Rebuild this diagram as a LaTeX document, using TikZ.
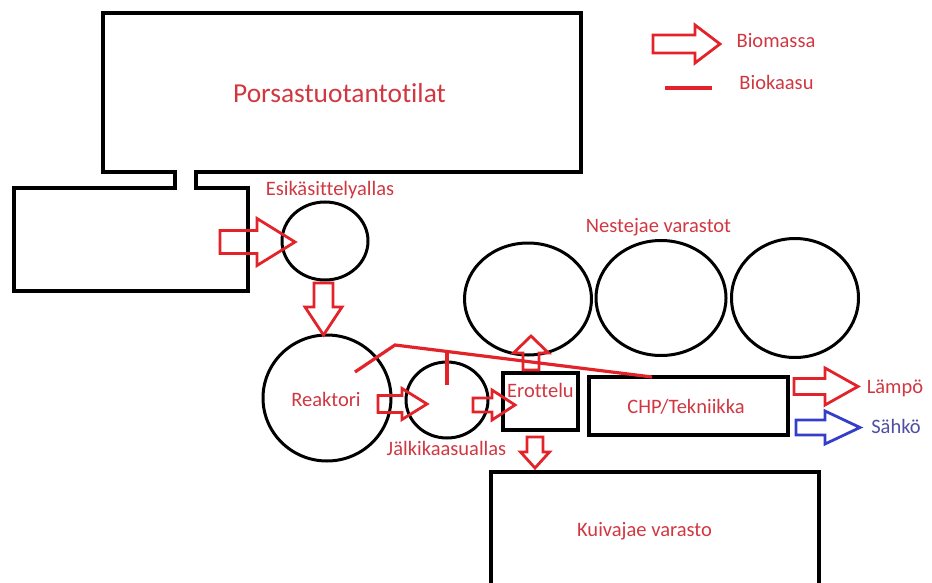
\documentclass[tikz,border=0pt]{standalone}
\usepackage{fontspec}
\setmainfont{Carlito}[Ligatures={NoCommon}]
\usetikzlibrary{shapes.geometric}
\definecolor{arrred}{RGB}{226,35,42}
\definecolor{txtred}{RGB}{208,55,65}
\definecolor{arrblue}{RGB}{52,62,200}
\definecolor{txtblue}{RGB}{78,78,165}
\tikzset{
  wall/.style={draw=black, line width=3.6pt, line join=miter},
  tank/.style={draw=black, line width=3pt, ellipse, inner sep=0pt, outer sep=0pt},
  box/.style={draw=black, line width=3.4pt, inner sep=0pt, outer sep=0pt},
  lbl/.style={text=txtred, font=\fontsize{20.5}{24}\selectfont, inner sep=0pt, anchor=base},
  biglbl/.style={text=txtred, font=\fontsize{27.4}{32}\selectfont, inner sep=0pt, anchor=base},
  bio/.style={draw=arrred, line width=2.8pt, line join=miter},
  ele/.style={draw=arrblue, line width=2.8pt, line join=miter},
  gas/.style={draw=arrred, line width=3.2pt},
}
% #1 style, #2 start, #3 angle, #4 length, #5 head length, #6 shaft width, #7 head width
\newcommand\blockarrow[7]{%
  \begin{scope}[shift={#2}, rotate=#3]
    \draw[#1] (0,{-#6/2}) -- ({#4-#5},{-#6/2}) -- ({#4-#5},{-#7/2}) -- (#4,0)
      -- ({#4-#5},{#7/2}) -- ({#4-#5},{#6/2}) -- (0,{#6/2}) -- cycle;
  \end{scope}}
\begin{document}
\begin{tikzpicture}[x=1pt, y=-1pt]
\useasboundingbox (0,0) rectangle (932,583);
% buildings
\draw[wall] (103,13) -- (581,13) -- (581,172) -- (196,172) -- (196,188) -- (248,188)
  -- (248,291) -- (14,291) -- (14,188) -- (175,188) -- (175,172) -- (103,172) -- cycle;
\node[biglbl] (porsas) at (339.5,103) {Porsastuotantotilat};
% tanks
\node[tank, minimum width=86pt, minimum height=78pt] (esik) at (325,241) {};
\node[lbl] (esiklbl) at (330,195) {Esikäsittelyallas};
\node[tank, minimum width=128pt, minimum height=126pt] (reak) at (327,398) {};
\node[lbl] (reaklbl) at (326,406) {Reaktori};
\node[tank, minimum width=82pt, minimum height=76pt] (jalki) at (447,400) {};
\node[lbl] (jalkilbl) at (446.5,455) {Jälkikaasuallas};
\node[tank, minimum width=127pt, minimum height=112pt] (nest1) at (528,299) {};
\node[tank, minimum width=130pt, minimum height=115pt] (nest2) at (661,298) {};
\node[tank, minimum width=127pt, minimum height=119pt] (nest3) at (795,298) {};
\node[lbl] (nestlbl) at (658.5,232) {Nestejae varastot};
% boxes
\node[box, minimum width=75pt, minimum height=57pt] (erot) at (540.5,401.5) {};
\node[lbl] (erotlbl) at (540.5,397) {Erottelu};
\node[box, minimum width=199pt, minimum height=58pt] (chp) at (688.5,406) {};
\node[lbl] (chplbl) at (686,413) {CHP/Tekniikka};
\coordinate (kv1) at (491,584);
\coordinate (kv2) at (819,584);
\draw[wall] (kv1) -- (491,472) -- (819,472) -- (kv2);
\node[lbl] (kuivlbl) at (644.5,536) {Kuivajae varasto};
% biogas line
\coordinate (g1) at (355,372);
\coordinate (g2) at (395,345);
\coordinate (g3) at (652,377);
\coordinate (t1) at (447,352);
\coordinate (t2) at (447,385);
\draw[gas, line join=miter] (g1) -- (g2) -- (g3);
\draw[gas] (t1) -- (t2);
% biomass arrows
\blockarrow{bio}{(220,242)}{0}{75}{38}{23}{47}
\blockarrow{bio}{(323.5,283)}{-90}{52}{28}{19}{37}
\blockarrow{bio}{(378,404)}{0}{49}{25}{17}{31}
\blockarrow{bio}{(473,405)}{0}{42}{23}{14}{30}
\blockarrow{bio}{(531,370)}{90}{34}{17}{16}{35}
\blockarrow{bio}{(535,437)}{-90}{31}{16}{16}{29}
\blockarrow{bio}{(794,386.5)}{0}{64}{33}{16}{37}
\blockarrow{ele}{(796,427.5)}{0}{64}{35}{15}{33}
\node[lbl] (lampo) at (895,393) {Lämpö};
\node[lbl, text=txtblue] (sahko) at (896,433) {Sähkö};
% legend
\blockarrow{bio}{(653,44)}{0}{67}{25}{18}{38}
\node[lbl] (biomassa) at (776,48) {Biomassa};
\coordinate (leg1) at (665,88);
\coordinate (leg2) at (712,88);
\draw[gas] (leg1) -- (leg2);
\node[lbl] (biokaasu) at (776.5,90) {Biokaasu};
\end{tikzpicture}
\end{document}
